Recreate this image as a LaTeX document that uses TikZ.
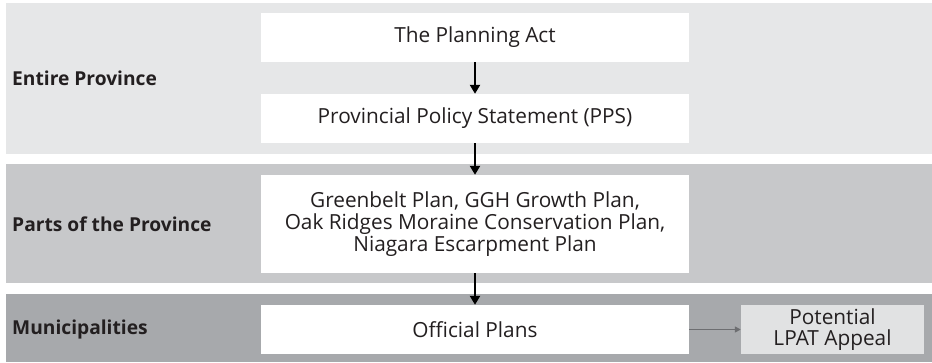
\documentclass[tikz,border=0pt]{standalone}
\usepackage{fontspec}
\setmainfont{Open Sans}
\usetikzlibrary{arrows.meta}
\definecolor{bandlight}{HTML}{E6E7E8}
\definecolor{bandmid}{HTML}{C7C8CA}
\definecolor{banddark}{HTML}{A7A9AC}
\definecolor{appealfill}{HTML}{E1E2E3}
\definecolor{inkdark}{HTML}{231F20}
\definecolor{linkgray}{HTML}{6D6E71}
\begin{document}
\begin{tikzpicture}[x=1pt,y=-1pt,
  every node/.style={text=inkdark, font=\fontsize{20.8}{21.8}\selectfont},
  planbox/.style={fill=white, draw=none, minimum width=428pt, minimum height=49pt, inner sep=0pt, align=center},
  appealbox/.style={fill=appealfill, draw=none, minimum width=183pt, minimum height=49pt, inner sep=0pt, align=center},
  bandlabel/.style={anchor=west, inner sep=0pt, font=\fontsize{19.2}{22}\selectfont\bfseries},
  flow/.style={draw=black, line width=2.4pt, -{Triangle[length=9pt,width=10pt]}},
  sidelink/.style={draw=linkgray, line width=1.6pt, -{Triangle[length=6pt,width=6pt]}}]
\useasboundingbox (0,0) rectangle (932,362);

% horizontal bands
\fill[bandlight] (6,3) rectangle (932,154);
\fill[bandmid] (6,164) rectangle (932,283);
\fill[banddark] (6,294) rectangle (932,362);

% band labels
\node[bandlabel] (lblA) at (12,78) {Entire Province};
\node[bandlabel] (lblB) at (12,224) {Parts of the Province};
\node[bandlabel] (lblC) at (12,329.5) {Municipalities};

% plan boxes
\node[planbox] (act) at (475,37.5) {The Planning Act};
\node[planbox] (pps) at (475,118.5) {Provincial Policy Statement (PPS)};
\node[planbox, minimum height=98pt] (prov) at (475,224)
  {Greenbelt Plan, GGH Growth Plan,\\Oak Ridges Moraine Conservation Plan,\\Niagara Escarpment Plan};
\node[planbox] (official) at (475,329.5) {Official Plans};
\node[appealbox] (appeal) at (832.5,329.5) {Potential\\LPAT Appeal};

% connectors
\draw[flow] (act.south) -- (pps.north);
\draw[flow] (pps.south) -- (prov.north);
\draw[flow] (prov.south) -- (official.north);
\draw[sidelink] (official.east) -- (appeal.west);
\end{tikzpicture}
\end{document}
